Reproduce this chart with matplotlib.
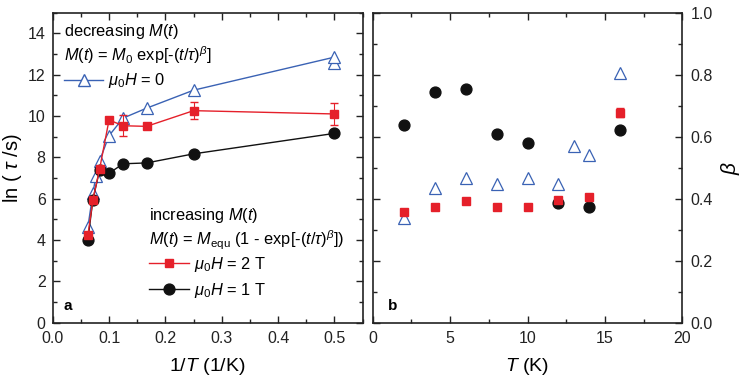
import numpy as np
import matplotlib
matplotlib.use("Agg")
import matplotlib.pyplot as plt
from matplotlib.ticker import MultipleLocator
from matplotlib.lines import Line2D

plt.rcParams["font.family"] = ["Liberation Sans", "DejaVu Sans"]
plt.rcParams["mathtext.fontset"] = "custom"
plt.rcParams["mathtext.rm"] = "Liberation Sans"
plt.rcParams["mathtext.it"] = "Liberation Sans:italic"
plt.rcParams["mathtext.bf"] = "Liberation Sans:bold"

BLUE = "#3a62b4"
RED = "#e5202a"
BLACK = "#111111"

# ---- data: temperatures (K) ----
T_h0 = [2, 2, 4, 6, 8, 10, 12, 13, 14, 16]          # mu0H = 0 (two fits at 2 K)
T_h2 = [2, 4, 6, 8, 10, 12, 14, 16]                 # mu0H = 2 T
T_h1 = [2, 4, 6, 8, 10, 12, 14, 16]                 # mu0H = 1 T

# ---- panel a: ln(tau/s) ----
lntau_h0 = [12.55, 12.85, 11.25, 10.38, 9.9, 9.05, 7.84, 7.12, 6.27, 4.63]
lntau_h2 = [10.1, 10.26, 9.5, 9.53, 9.81, 7.44, 5.96, 4.23]
lntau_h2_err = [0.55, 0.4, 0.1, 0.5, 0.1, 0.1, 0.1, 0.1]
lntau_h1 = [9.16, 8.17, 7.73, 7.69, 7.23, 7.4, 5.96, 4.02]

# ---- panel b: beta ----
T_b_h0 = [2, 4, 6, 8, 10, 12, 13, 14, 16]
beta_h0 = [0.337, 0.434, 0.466, 0.446, 0.468, 0.448, 0.570, 0.541, 0.805]
beta_h2 = [0.356, 0.374, 0.394, 0.374, 0.372, 0.396, 0.404, 0.677]
beta_h2_err = [0.005, 0.005, 0.005, 0.005, 0.005, 0.005, 0.005, 0.015]
beta_h1 = [0.638, 0.743, 0.753, 0.608, 0.579, 0.385, 0.374, 0.622]
beta_h1_err = [0.0, 0.0, 0.01, 0.0, 0.0, 0.0, 0.0, 0.0]

inv = lambda T: [1.0 / t for t in T]

fig = plt.figure(figsize=(7.47, 3.81), dpi=100)
ax_a = fig.add_axes([0.0705, 0.153, 0.415, 0.8137])
ax_b = fig.add_axes([0.499, 0.153, 0.4144, 0.8137])

TICK_FS = 11.5
for ax in (ax_a, ax_b):
    ax.tick_params(which="both", direction="in", top=True, right=True,
                   labelsize=TICK_FS, width=1.0, colors="#222222")
    ax.tick_params(which="major", length=5)
    ax.tick_params(which="minor", length=3)
    ax.tick_params(axis="x", which="major", pad=6)
    ax.tick_params(axis="y", which="major", pad=5)
    for sp in ax.spines.values():
        sp.set_linewidth(1.2)
        sp.set_color("#222222")

# ── panel a ──
ax_a.plot(inv(T_h0), lntau_h0, "-^", color=BLUE, mfc="white", mec=BLUE,
          ms=8, lw=1.0, mew=0.9, zorder=2)
ax_a.plot(inv(T_h1), lntau_h1, "-o", color=BLACK, ms=7.8, lw=1.0, zorder=3)
ax_a.errorbar(inv(T_h2), lntau_h2, yerr=lntau_h2_err, fmt="-s", color=RED,
              ms=6, lw=1.0, capsize=3, elinewidth=0.8, zorder=4)

ax_a.set_xlim(0, 0.55)
ax_a.set_ylim(0, 15)
ax_a.xaxis.set_major_locator(MultipleLocator(0.1))
ax_a.xaxis.set_minor_locator(MultipleLocator(0.05))
ax_a.yaxis.set_major_locator(MultipleLocator(2))
ax_a.yaxis.set_minor_locator(MultipleLocator(1))
ax_a.xaxis.set_major_formatter(plt.FuncFormatter(lambda v, p: f"{v:.1f}"))
ax_a.set_xlabel("1/$T$ (1/K)", fontsize=14, labelpad=7)
ax_a.set_ylabel(r"ln ( $\tau$ /s)", fontsize=14.5, labelpad=3)

LFS = 11.8
ax_a.text(0.035, 0.939, "decreasing $M(t)$", transform=ax_a.transAxes,
          fontsize=LFS, va="center")
ax_a.text(0.035, 0.864, r"$M$($t$) = $M_0$ exp[-($t$/$\tau$)$^\beta$]",
          transform=ax_a.transAxes, fontsize=LFS, va="center")
leg1 = ax_a.legend(
    handles=[Line2D([], [], color=BLUE, marker="^", mfc="white", ms=8, lw=1.0)],
    labels=[r"$\mu_0H$ = 0"], loc="center left", bbox_to_anchor=(0.0, 0.78),
    frameon=False, fontsize=LFS, handlelength=2.4, handletextpad=0.3,
    borderaxespad=0.3)
ax_a.add_artist(leg1)

ax_a.text(0.31, 0.347, "increasing $M(t)$", transform=ax_a.transAxes,
          fontsize=LFS, va="center")
ax_a.text(0.31, 0.266,
          r"$M$($t$) = $M_{\rm equ}$ (1 - exp[-($t$/$\tau$)$^\beta$])",
          transform=ax_a.transAxes, fontsize=LFS, va="center")
ax_a.legend(
    handles=[Line2D([], [], color=RED, marker="s", ms=6, lw=1.0),
             Line2D([], [], color=BLACK, marker="o", ms=7.8, lw=1.0)],
    labels=[r"$\mu_0H$ = 2 T", r"$\mu_0H$ = 1 T"],
    loc="center left", bbox_to_anchor=(0.275, 0.1455), frameon=False,
    fontsize=LFS, handlelength=2.4, handletextpad=0.3, labelspacing=0.42,
    borderaxespad=0.3)
ax_a.text(0.035, 0.053, "a", transform=ax_a.transAxes, fontsize=11,
          fontweight="bold", va="center")

# ── panel b ──
ax_b.plot(T_b_h0, beta_h0, "^", color=BLUE, mfc="white", mec=BLUE, ms=8,
          mew=0.9, zorder=2)
ax_b.errorbar(T_h1, beta_h1, yerr=beta_h1_err, fmt="o", color=BLACK, ms=7.8,
              capsize=2, elinewidth=0.8, zorder=3)
ax_b.errorbar(T_h2, beta_h2, yerr=beta_h2_err, fmt="s", color=RED, ms=6,
              capsize=3, elinewidth=0.8, zorder=4)

ax_b.set_xlim(0, 20)
ax_b.set_ylim(0, 1.0)
ax_b.xaxis.set_major_locator(MultipleLocator(5))
ax_b.xaxis.set_minor_locator(MultipleLocator(2.5))
ax_b.yaxis.set_major_locator(MultipleLocator(0.2))
ax_b.yaxis.set_minor_locator(MultipleLocator(0.1))
ax_b.yaxis.set_major_formatter(plt.FuncFormatter(lambda v, p: f"{v:.1f}"))
ax_b.tick_params(labelleft=False, labelright=True)
ax_b.tick_params(axis="y", which="major", pad=6)
ax_b.yaxis.set_label_position("right")
ax_b.set_xlabel("$T$ (K)", fontsize=14, labelpad=7)
ax_b.set_ylabel(r"$\beta$", fontsize=15, labelpad=4)
ax_b.text(0.05, 0.053, "b", transform=ax_b.transAxes, fontsize=11,
          fontweight="bold", va="center")

fig.savefig("out.png", dpi=100)
